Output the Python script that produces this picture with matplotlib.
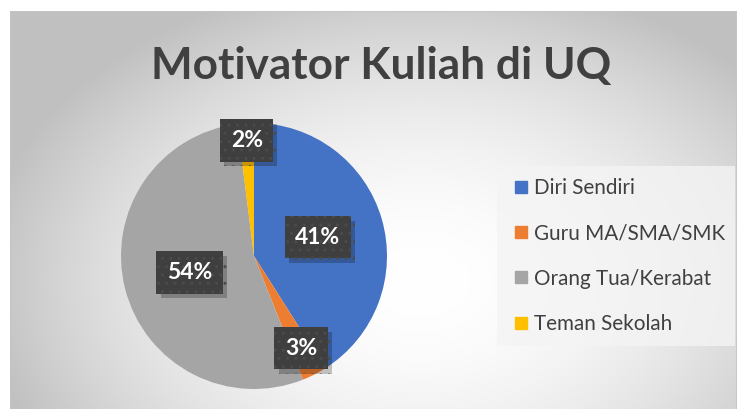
import numpy as np
import matplotlib
matplotlib.use("Agg")
import matplotlib.pyplot as plt
import matplotlib.patheffects as pe
from matplotlib.patches import Rectangle

# data
categories = ["Diri Sendiri", "Guru MA/SMA/SMK", "Orang Tua/Kerabat", "Teman Sekolah"]
shares = [41, 3, 54, 2]
colors = ["#4472C4", "#ED7D31", "#A5A5A5", "#FFC000"]
label_radius = [0.50, 0.78, 0.50, 0.87]   # where Excel put each data label
title = "Motivator Kuliah di UQ"

W, H = 741, 409
FONT = "Lato"


def px(x0, y0, w, h):
    # pixel box (top-left origin) -> figure fraction rect
    return [x0 / W, 1 - (y0 + h) / H, w / W, h / H]


fig = plt.figure(figsize=(W / 100, H / 100), dpi=100)
fig.patch.set_facecolor("white")

# chart area with radial gradient
bw, bh = 727, 398
bg = fig.add_axes(px(10, 11, bw, bh))
bg.set_axis_off()
yy, xx = np.mgrid[0:bh, 0:bw]
d = np.sqrt(((xx - 410) / 400.0) ** 2 + ((yy - 270) / 280.0) ** 2)
g = np.clip(255 - 52 * d ** 1.9, 192, 255) / 255.0
bg.imshow(np.dstack([g, g, g]), aspect="auto", extent=[0, 1, 0, 1], zorder=0)
bg.plot([0, 0, 1, 1], [0, 1, 1, 0], transform=bg.transAxes, color="#c4c4c4", lw=1.2)

fig.text(381 / W, 1 - 66 / H, title, ha="center", va="center", fontsize=31.8,
         fontweight="bold", color="#404040", family=FONT)

# pie
ax = fig.add_axes(px(121, 123, 266, 266))
wedges, _ = ax.pie(shares, colors=colors, startangle=90, counterclock=False,
                   radius=1.0, wedgeprops=dict(lw=0))
ax.set_xlim(-1, 1); ax.set_ylim(-1, 1)

for w, r, v in zip(wedges, label_radius, shares):
    th = np.deg2rad((w.theta1 + w.theta2) / 2)
    t = ax.text(r * np.cos(th), r * np.sin(th), f"{v}%", ha="center", va="center",
                fontsize=16.5, fontweight="bold", color="white", family=FONT,
                bbox=dict(boxstyle="square,pad=0.46", fc="#3f3f3f", ec="#4b4b4b",
                          lw=0, hatch=".."))
    t.get_bbox_patch().set_path_effects(
        [pe.SimplePatchShadow(offset=(3, -3), shadow_rgbFace="black", alpha=0.22),
         pe.Normal()])

# legend
leg_ax = fig.add_axes(px(497, 166, 238, 180))
leg_ax.set_axis_off()
leg_ax.add_patch(Rectangle((0, 0), 1, 1, transform=leg_ax.transAxes,
                           fc="#f4f4f4", ec="none", alpha=0.8))
handles = [plt.Line2D([], [], ls="none", marker="s", ms=8, mfc=c, mec=c) for c in colors]
leg = leg_ax.legend(handles, categories, loc="center left", bbox_to_anchor=(0.0, 0.5),
                    frameon=False, handlelength=0.7, handletextpad=0.3,
                    labelspacing=1.22, borderpad=0.3,
                    prop=dict(family=FONT, size=14.9))
for t in leg.get_texts():
    t.set_color("#404040")

fig.savefig("out.png", dpi=100)
